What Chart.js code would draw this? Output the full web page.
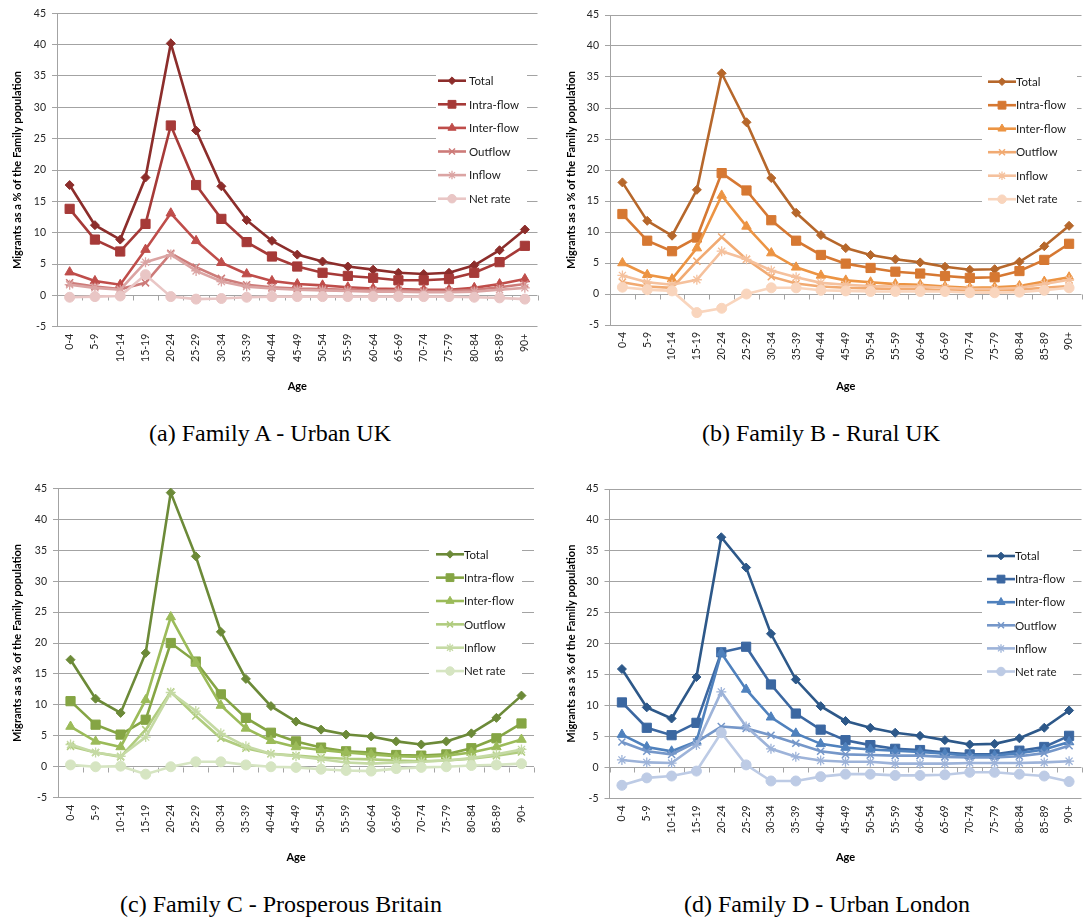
<!DOCTYPE html>
<html><head><meta charset="utf-8">
<script src="https://cdn.jsdelivr.net/npm/chart.js@4/dist/chart.umd.min.js"></script>
<style>
html,body{margin:0;padding:0;background:#fff;}
#wrap{position:relative;width:1089px;height:917px;overflow:hidden;background:#fff;}
.pn{position:absolute;}
.pn canvas{display:block;}
.cap{position:absolute;font-family:'Liberation Serif','Times New Roman',serif;font-size:24px;line-height:24px;color:#000;white-space:nowrap;transform:translateX(-50%);}
</style></head><body>
<div id="wrap">
<div class="pn" style="left:0px;top:0px"><canvas id="cA" width="545" height="400"></canvas></div>
<div class="pn" style="left:545px;top:0px"><canvas id="cB" width="544" height="400"></canvas></div>
<div class="pn" style="left:0px;top:470px"><canvas id="cC" width="545" height="400"></canvas></div>
<div class="pn" style="left:545px;top:470px"><canvas id="cD" width="544" height="400"></canvas></div>
<div class="cap" style="left:270px;top:421px">(a) Family A - Urban UK</div>
<div class="cap" style="left:821px;top:421px">(b) Family B - Rural UK</div>
<div class="cap" style="left:281px;top:892px">(c) Family C - Prosperous Britain</div>
<div class="cap" style="left:827px;top:892px">(d) Family D - Urban London</div>
</div>
<script>
// ---- categories / labels ----
const ageGroups = ['0-4','5-9','10-14','15-19','20-24','25-29','30-34','35-39','40-44','45-49','50-54','55-59','60-64','65-69','70-74','75-79','80-84','85-89','90+'];
const seriesNames = ['Total','Intra-flow','Inter-flow','Outflow','Inflow','Net rate'];
const yMin = -5, yMax = 45, yStep = 5;
const xTitle = 'Age';
const yTitle = 'Migrants as a % of the Family population';

// ---- Family A - Urban UK ----
const totalA = [17.6, 11.2, 8.9, 18.8, 40.2, 26.3, 17.4, 12.0, 8.7, 6.5, 5.4, 4.6, 4.1, 3.6, 3.4, 3.6, 4.8, 7.2, 10.5];
const intraA = [13.8, 8.9, 7.0, 11.4, 27.1, 17.6, 12.2, 8.5, 6.2, 4.6, 3.6, 3.1, 2.8, 2.4, 2.4, 2.6, 3.6, 5.3, 7.9];
const interA = [3.7, 2.3, 1.7, 7.3, 13.1, 8.7, 5.2, 3.4, 2.3, 1.8, 1.6, 1.3, 1.1, 1.0, 0.9, 0.9, 1.2, 1.8, 2.6];
const outA   = [2.0, 1.4, 1.0, 2.0, 6.7, 4.5, 2.7, 1.7, 1.3, 1.1, 1.0, 0.9, 0.8, 0.8, 0.7, 0.7, 0.9, 1.3, 1.8];
const inA    = [1.7, 1.2, 0.9, 5.3, 6.5, 3.9, 2.2, 1.4, 1.1, 0.9, 0.8, 0.7, 0.6, 0.6, 0.5, 0.5, 0.6, 0.9, 1.2];
const netA   = [-0.3, -0.2, -0.1, 3.3, -0.2, -0.6, -0.5, -0.3, -0.2, -0.2, -0.2, -0.2, -0.2, -0.2, -0.2, -0.2, -0.3, -0.4, -0.6];

// ---- Family B - Rural UK ----
const totalB = [18.0, 11.8, 9.4, 16.8, 35.6, 27.7, 18.7, 13.1, 9.5, 7.4, 6.3, 5.6, 5.1, 4.4, 3.9, 4.0, 5.2, 7.7, 11.0];
const intraB = [12.9, 8.6, 6.9, 9.1, 19.5, 16.7, 11.9, 8.6, 6.3, 4.9, 4.2, 3.6, 3.3, 2.9, 2.6, 2.7, 3.7, 5.5, 8.1];
const interB = [5.0, 3.1, 2.4, 7.4, 15.9, 10.9, 6.6, 4.3, 3.0, 2.2, 1.9, 1.6, 1.5, 1.2, 1.0, 1.1, 1.3, 2.0, 2.7];
const outB   = [1.9, 1.2, 1.0, 5.3, 9.2, 5.6, 2.8, 1.7, 1.2, 1.0, 0.9, 0.8, 0.8, 0.6, 0.6, 0.6, 0.7, 1.0, 1.3];
const inB    = [3.0, 1.9, 1.5, 2.3, 6.9, 5.6, 3.8, 2.7, 1.8, 1.5, 1.3, 1.2, 1.2, 1.0, 0.8, 0.8, 1.0, 1.6, 2.3];
const netB   = [1.1, 0.7, 0.5, -3.0, -2.3, 0.0, 1.0, 1.0, 0.6, 0.5, 0.4, 0.4, 0.4, 0.4, 0.2, 0.2, 0.3, 0.6, 1.0];

// ---- Family C - Prosperous Britain ----
const totalC = [17.3, 11.0, 8.7, 18.4, 44.3, 34.0, 21.8, 14.2, 9.8, 7.3, 6.0, 5.2, 4.9, 4.1, 3.6, 4.1, 5.4, 7.9, 11.5];
const intraC = [10.6, 6.8, 5.2, 7.6, 20.0, 17.0, 11.7, 7.9, 5.5, 4.1, 3.1, 2.5, 2.3, 1.9, 1.8, 2.0, 3.0, 4.6, 7.0];
const interC = [6.5, 4.1, 3.2, 10.8, 24.2, 16.8, 9.9, 6.2, 4.2, 3.2, 2.7, 2.3, 2.0, 1.7, 1.6, 1.8, 2.3, 3.2, 4.4];
const outC   = [3.3, 2.3, 1.6, 6.0, 12.1, 8.2, 4.6, 3.0, 2.1, 1.8, 1.5, 1.3, 1.2, 1.0, 0.9, 1.0, 1.3, 1.8, 2.4];
const inC    = [3.6, 2.3, 1.7, 4.8, 12.0, 9.0, 5.4, 3.3, 2.1, 1.7, 1.2, 0.7, 0.5, 0.7, 0.8, 1.0, 1.4, 2.0, 2.8];
const netC   = [0.3, 0.0, 0.1, -1.2, 0.0, 0.8, 0.8, 0.3, 0.0, -0.1, -0.4, -0.6, -0.7, -0.3, -0.1, 0.0, 0.2, 0.3, 0.5];

// ---- Family D - Urban London ----
const totalD = [15.9, 9.7, 7.9, 14.6, 37.2, 32.3, 21.6, 14.2, 9.9, 7.5, 6.4, 5.6, 5.1, 4.4, 3.7, 3.8, 4.7, 6.4, 9.2];
const intraD = [10.5, 6.4, 5.2, 7.2, 18.6, 19.5, 13.4, 8.7, 6.1, 4.4, 3.6, 3.0, 2.8, 2.4, 2.1, 2.1, 2.7, 3.3, 5.1];
const interD = [5.3, 3.3, 2.6, 4.2, 18.5, 12.6, 8.1, 5.5, 3.8, 3.2, 2.9, 2.7, 2.5, 2.2, 1.9, 1.9, 2.3, 2.9, 4.1];
const outD   = [4.1, 2.6, 2.1, 4.1, 6.6, 6.3, 5.2, 3.9, 2.6, 2.1, 2.0, 1.9, 1.9, 1.7, 1.6, 1.6, 1.8, 2.3, 3.5];
const inD    = [1.2, 0.8, 0.7, 3.6, 12.2, 6.6, 3.0, 1.7, 1.1, 0.9, 0.9, 0.6, 0.6, 0.6, 0.7, 0.7, 0.7, 0.8, 1.0];
const netD   = [-2.9, -1.7, -1.4, -0.6, 5.6, 0.4, -2.2, -2.2, -1.5, -1.1, -1.1, -1.3, -1.3, -1.2, -0.8, -0.8, -1.1, -1.4, -2.3];

// ---- colours ----
const coloursA = ['#8c2d2b','#a63a38','#bf4d4a','#cd7b79','#dba4a3','#e9c6c5'];
const coloursB = ['#b6672b','#d67832','#ec9443','#f1aa72','#f5c19d','#f9d5bd'];
const coloursC = ['#6c8a38','#85a544','#9bbb59','#b0cc7e','#c5daa4','#d6e5c2'];
const coloursD = ['#2d5889','#3b67a1','#4f81bd','#7597c9','#9db3d9','#bdcbe5'];

const markerStyles = [
  {ps:'rectRot', r:4.5, bw:1},
  {ps:'rect', r:6.5, bw:1},
  {ps:'triangle', r:5.5, bw:1},
  {ps:'crossRot', r:5, bw:1.5},
  {ps:'star', r:5, bw:1.3},
  {ps:'circle', r:5, bw:1}
];

const GRID = '#a3a3a3';
const TXT = '#262626';
const FONT = 'Lato';

const zeroTicks = {
  id:'zeroTicks',
  beforeDatasetsDraw(chart){
    const xs = chart.scales.x, ys = chart.scales.y, ctx = chart.ctx;
    const y0 = Math.round(ys.getPixelForValue(0)) + 0.5;
    ctx.save();
    ctx.strokeStyle = GRID; ctx.lineWidth = 1;
    ctx.beginPath();
    for (let i = 0; i <= ageGroups.length; i++) {
      const x = Math.round(xs.getPixelForValue(i - 0.5)) + 0.5;
      ctx.moveTo(x, y0); ctx.lineTo(x, y0 + 5);
    }
    ctx.stroke();
    ctx.restore();
  }
};

function drawMarker(ctx, style, r, x, y){
  if (Chart.helpers && Chart.helpers.drawPoint) {
    Chart.helpers.drawPoint(ctx, {pointStyle:style, radius:r, rotation:0, borderWidth:ctx.lineWidth}, x, y);
  }
}

const inLegend = {
  id:'inLegend',
  afterDraw(chart, args, o){
    const ctx = chart.ctx;
    ctx.save();
    ctx.fillStyle = '#fff';
    ctx.fillRect(o.box[0], o.box[1], o.box[2]-o.box[0], o.box[3]-o.box[1]);
    chart.data.datasets.forEach((ds, i) => {
      const y = o.y + i*o.dy;
      ctx.strokeStyle = ds.borderColor; ctx.lineWidth = ds.borderWidth;
      ctx.beginPath(); ctx.moveTo(o.x, y); ctx.lineTo(o.x + o.len, y); ctx.stroke();
      ctx.fillStyle = ds.pointBackgroundColor; ctx.strokeStyle = ds.pointBorderColor; ctx.lineWidth = ds.pointBorderWidth;
      drawMarker(ctx, ds.pointStyle, ds.pointRadius*0.85, o.x + o.len/2, y);
      ctx.fillStyle = '#1a1a1a';
      ctx.font = '11.5px ' + FONT;
      ctx.textBaseline = 'middle'; ctx.textAlign = 'left';
      ctx.fillText(ds.label, o.tx, y + 0.5);
    });
    ctx.restore();
  }
};

function makePanel(id, series, colours, g){
  const datasets = series.map((d, i) => ({
    label: seriesNames[i], data: d,
    borderColor: colours[i], backgroundColor: colours[i],
    borderWidth: 2.6, tension: 0,
    pointStyle: markerStyles[i].ps, pointRadius: markerStyles[i].r, pointHoverRadius: markerStyles[i].r,
    pointBorderWidth: markerStyles[i].bw,
    pointBackgroundColor: colours[i], pointBorderColor: colours[i],
    order: 5 - i, clip: false
  }));
  const yw = g.L - g.cl, xh = g.ct + g.h - g.B;
  return new Chart(document.getElementById(id), {
    type:'line',
    data:{labels: ageGroups, datasets},
    plugins:[zeroTicks, inLegend],
    options:{
      responsive:false, animation:false, events:[],
      layout:{padding:{left:0, top:g.T - g.ct, right:g.cl + g.w - g.R, bottom:0}},
      plugins:{legend:{display:false}, tooltip:{enabled:false}, inLegend: g.leg},
      scales:{
        x:{
          type:'category', offset:true,
          grid:{display:false, drawTicks:false}, border:{display:false},
          ticks:{autoSkip:false, maxRotation:90, minRotation:90, padding:7, color:TXT, font:{family:FONT, size:10.5}},
          title:{display:true, text:xTitle, color:'#000', font:{family:FONT, size:11, weight:'bold'}, padding:{top:0, bottom:g.xtp}},
          afterFit: s => { s.height = xh; }
        },
        y:{
          min:yMin, max:yMax,
          ticks:{stepSize:yStep, color:TXT, padding:6, font:{family:FONT, size:10.5}},
          grid:{color:GRID, lineWidth:1, tickLength:5, drawTicks:true},
          border:{display:true, color:GRID, width:1},
          title:{display:true, text:yTitle, color:'#000', font:{family:FONT, size:11, weight:'bold'}, padding:{top:g.ytp, bottom:0}},
          afterFit: s => { s.width = yw; }
        }
      }
    }
  });
}

makePanel('cA', [totalA, intraA, interA, outA, inA, netA], coloursA,
  {cl:0, ct:0, w:545, h:400, L:57, R:538, T:13.3, B:326.7, xtp:7, ytp:11,
   leg:{x:438, tx:469, len:28, y:80.7, dy:23.6, box:[436,68,527,212]}});
makePanel('cB', [totalB, intraB, interB, outB, inB, netB], coloursB,
  {cl:545, ct:0, w:544, h:400, L:610, R:1087, T:15, B:325, xtp:7, ytp:20,
   leg:{x:443, tx:471, len:28, y:81.7, dy:23.5, box:[437,69,532,213]}});
makePanel('cC', [totalC, intraC, interC, outC, inC, netC], coloursC,
  {cl:0, ct:470, w:545, h:400, L:58, R:534, T:488.3, B:797.7, xtp:5.5, ytp:11,
   leg:{x:436, tx:464, len:28, y:84.3, dy:23.35, box:[429,72,522,215]}});
makePanel('cD', [totalD, intraD, interD, outD, inD, netD], coloursD,
  {cl:545, ct:470, w:544, h:400, L:609.5, R:1085, T:489, B:798.3, xtp:5.5, ytp:20,
   leg:{x:442, tx:470, len:28, y:86, dy:23.1, box:[437,74,528,215]}});
</script>
</body></html>
